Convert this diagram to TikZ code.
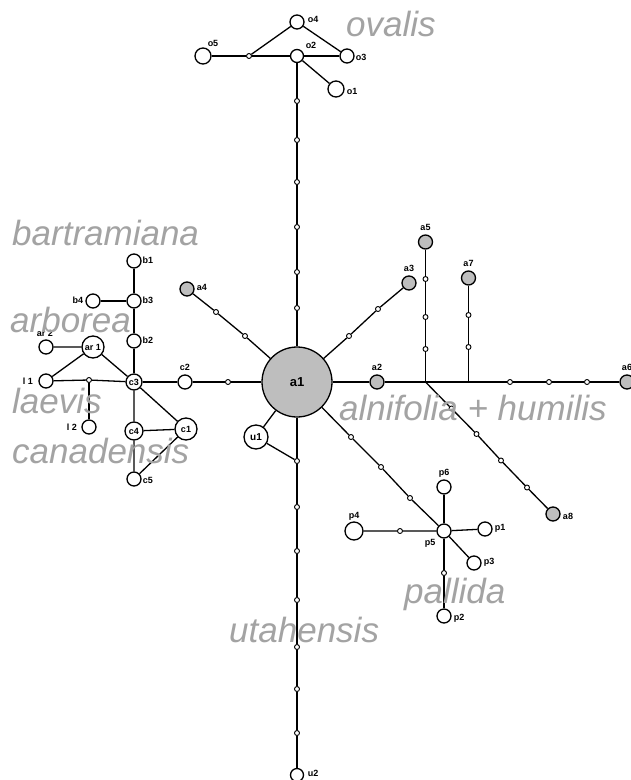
\documentclass[tikz,border=0pt]{standalone}
\usepackage{fontspec}
\setmainfont{Liberation Sans}
\definecolor{spgray}{RGB}{163,163,163}
\definecolor{hapgray}{RGB}{190,190,190}
\begin{document}
\begin{tikzpicture}[x=1pt,y=-1pt,
  edge/.style={line width=1.3pt},
  hap/.style={circle,draw,line width=1.3pt,fill=white,inner sep=0pt,minimum size=#1,font=\bfseries\fontsize{9}{9}\selectfont},
  hap/.default=14pt,
  ghap/.style={hap=#1,fill=hapgray},
  ghap/.default=14pt,
  mv/.style={circle,draw,line width=0.9pt,fill=white,inner sep=0pt,minimum size=5pt},
  lab/.style={font=\bfseries\fontsize{9}{9}\selectfont,inner sep=0pt},
  sp/.style={font=\itshape\fontsize{35}{35}\selectfont,text=spgray,inner sep=0pt,anchor=base west}]
\useasboundingbox (0,0) rectangle (630,780);
\fill[white] (0,0) rectangle (630,780);

% ---------- ovalis ----------
\node[hap=14pt] (o4) at (297,22) {};
\node[hap=13pt] (o2) at (297,56) {};
\node[hap=14pt] (o3) at (347,56) {};
\node[hap=16pt] (o1) at (336,89) {};
\node[hap=16pt] (o5) at (203,56) {};
\node[mv] (mo) at (249,56) {};
\node[lab] (lo4) at (313,19) {o4};
\node[lab] (lo2) at (311,45) {o2};
\node[lab] (lo3) at (361,57) {o3};
\node[lab] (lo1) at (352,91) {o1};
\node[lab] (lo5) at (213,43) {o5};

% vertical o2 - a1
\node[mv] (v1) at (297,101) {};
\node[mv] (v2) at (297,140) {};
\node[mv] (v3) at (297,182) {};
\node[mv] (v4) at (297,227) {};
\node[mv] (v5) at (297,272) {};
\node[mv] (v6) at (297,308) {};

% ---------- center ----------
\node[ghap=70pt,font=\bfseries\fontsize{13}{13}\selectfont] (a1) at (297,382) {a1};
\node[hap=24pt,font=\bfseries\fontsize{10}{10}\selectfont] (u1) at (256,437) {u1};
\node[mv] (uj) at (297,461) {};
\node[mv] (d1) at (297,507) {};
\node[mv] (d2) at (297,551) {};
\node[mv] (d3) at (297,600) {};
\node[mv] (d4) at (297,647) {};
\node[mv] (d5) at (297,689) {};
\node[mv] (d6) at (297,733) {};
\node[hap=13pt] (u2) at (297,775) {};
\node[lab] (lu2) at (313,773) {u2};

% ---------- left cluster ----------
\node[hap] (b1) at (134,261) {};
\node[hap] (b3) at (134,301) {};
\node[hap] (b4) at (93,301) {};
\node[hap] (b2) at (134,341) {};
\node[hap=22pt] (ar1) at (93,347) {ar 1};
\node[hap] (ar2) at (46,347) {};
\node[hap=16pt] (c3) at (134,382) {c3};
\node[hap] (l1) at (46,381) {};
\node[mv] (ml) at (89,380) {};
\node[hap] (l2) at (89,427) {};
\node[hap] (c2) at (185,382) {};
\node[mv] (mc) at (228,382) {};
\node[hap=18pt] (c4) at (134,431) {c4};
\node[hap=22pt] (c1) at (186,429) {c1};
\node[hap] (c5) at (134,479) {};
\node[lab] (lb1) at (148,260) {b1};
\node[lab] (lb3) at (148,300) {b3};
\node[lab] (lb4) at (78,300) {b4};
\node[lab] (lb2) at (148,340) {b2};
\node[lab] (lar2) at (45,333) {ar 2};
\node[lab] (ll1) at (28,381) {l 1};
\node[lab] (ll2) at (72,427) {l 2};
\node[lab] (lc2) at (185,367) {c2};
\node[lab] (lc5) at (148,480) {c5};

% a4
\node[ghap] (a4) at (187,289) {};
\node[mv] (m41) at (216,312) {};
\node[mv] (m42) at (245,336) {};
\node[lab] (la4) at (202,287) {a4};

% ---------- right cluster ----------
\node[ghap] (a3) at (409,283) {};
\node[mv] (m31) at (349,336) {};
\node[mv] (m32) at (378,309) {};
\node[ghap] (a2) at (377,382) {};
\coordinate (J1) at (425.5,382);
\coordinate (J2) at (468.5,382);
\node[mv] (h1) at (510,382) {};
\node[mv] (h2) at (549,382) {};
\node[mv] (h3) at (587,382) {};
\node[ghap] (a6) at (627,382) {};
\node[ghap] (a5) at (425.5,242) {};
\node[mv] (k1) at (425.5,349) {};
\node[mv] (k2) at (425.5,317) {};
\node[mv] (k3) at (425.5,279) {};
\node[ghap] (a7) at (468.5,278) {};
\node[mv] (k4) at (468.5,347) {};
\node[mv] (k5) at (468.5,315) {};
\node[ghap] (a8) at (553,514) {};
\node[mv] (e1) at (451.5,408.5) {};
\node[mv] (e2) at (476.5,434) {};
\node[mv] (e3) at (501,460.5) {};
\node[mv] (e4) at (527,487.5) {};
\node[lab] (la3) at (409,268) {a3};
\node[lab] (la2) at (377,367) {a2};
\node[lab] (la6) at (627,367) {a6};
\node[lab] (la5) at (425.5,227) {a5};
\node[lab] (la7) at (468.5,263) {a7};
\node[lab] (la8) at (568,516) {a8};

% ---------- pallida ----------
\node[mv] (f1) at (351,437) {};
\node[mv] (f2) at (381,467) {};
\node[mv] (f3) at (410,498) {};
\node[hap] (p5) at (444,531) {};
\node[hap] (p6) at (444,487) {};
\node[hap=18pt] (p4) at (354,531) {};
\node[mv] (g1) at (400,531) {};
\node[hap] (p1) at (485,529) {};
\node[hap] (p3) at (474,563) {};
\node[mv] (g2) at (444,573) {};
\node[hap] (p2) at (444,616) {};
\node[lab] (lp6) at (444,473) {p6};
\node[lab] (lp4) at (354,516) {p4};
\node[lab] (lp1) at (500,528) {p1};
\node[lab] (lp3) at (489,562) {p3};
\node[lab] (lp5) at (430,543) {p5};
\node[lab] (lp2) at (459,618) {p2};

% ---------- edges ----------
\begin{scope}[edge]
\draw (o5) -- (mo) -- (o2) -- (o3);
\draw (mo) -- (o4) -- (o3);
\draw (o2) -- (o1);
\draw (o2) -- (v1) -- (v2) -- (v3) -- (v4) -- (v5) -- (v6) -- (a1);
\draw (a1) -- (uj) -- (d1) -- (d2) -- (d3) -- (d4) -- (d5) -- (d6) -- (u2);
\draw (a1) -- (u1) -- (uj);
\draw (b1) -- (b3) -- (b2) -- (c3);
\draw (b4) -- (b3);
\draw (ar2) -- (ar1) -- (l1);
\draw (ar1) -- (c3);
\draw (l1) -- (ml) -- (c3);
\draw (ml) -- (l2);
\draw (c3) -- (c2) -- (mc) -- (a1);
\draw (c3) -- (c4) -- (c1) -- (c3);
\draw (c4) -- (c5) -- (c1);
\draw (a1) -- (m42) -- (m41) -- (a4);
\draw (a1) -- (m31) -- (m32) -- (a3);
\draw (a1) -- (a2) -- (J1) -- (J2) -- (h1) -- (h2) -- (h3) -- (a6);
\draw (J1) -- (k1) -- (k2) -- (k3) -- (a5);
\draw (J2) -- (k4) -- (k5) -- (a7);
\draw (J1) -- (e1) -- (e2) -- (e3) -- (e4) -- (a8);
\draw (a1) -- (f1) -- (f2) -- (f3) -- (p5);
\draw (p5) -- (p6);
\draw (p4) -- (g1) -- (p5) -- (p1);
\draw (p5) -- (p3);
\draw (p5) -- (g2) -- (p2);
\end{scope}

% ---------- species names ----------
\node[sp] (sov) at (346,36) {ovalis};
\node[sp] (sba) at (12,245) {bartramiana};
\node[sp] (sar) at (10,332) {arborea};
\node[sp] (sla) at (12,413) {laevis};
\node[sp] (sca) at (12,463) {canadensis};
\node[sp] (sal) at (339,420) {alnifolia + humilis};
\node[sp] (spa) at (404,603) {pallida};
\node[sp] (sut) at (229,642) {utahensis};
\end{tikzpicture}
\end{document}
